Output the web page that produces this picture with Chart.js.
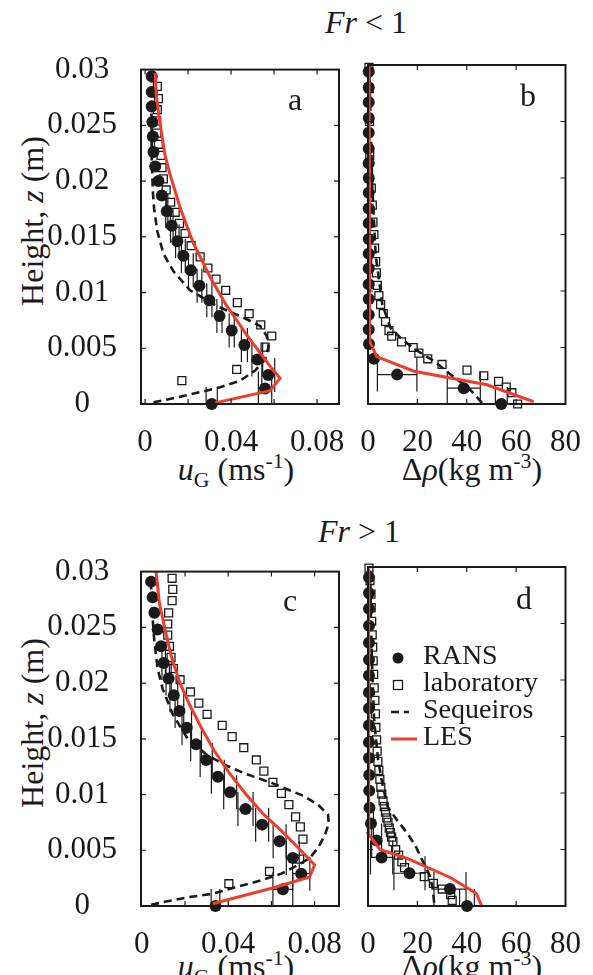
<!DOCTYPE html>
<html>
<head>
<meta charset="utf-8">
<script src="https://cdn.jsdelivr.net/npm/chart.js@4.4.1/dist/chart.umd.min.js"></script>
<style>
  body { margin: 0; width: 593px; height: 975px; position: relative; overflow: hidden; background: #fff;
         font-family: 'Liberation Serif', 'DejaVu Serif', serif; color: #1a1a1a; }
  canvas { position: absolute; }
  .t { position: absolute; white-space: nowrap; line-height: 1; transform: translate(-50%, -50%); }
  .rot { transform: translate(-50%, -50%) rotate(-90deg); }
  sub, sup { font-size: 0.68em; line-height: 0; }
</style>
</head>
<body>
<div class="t" style="left:366px;top:22px;font-size:32px"><i>Fr</i> &lt; 1</div>
<div class="t" style="left:359px;top:531px;font-size:32px"><i>Fr</i> &gt; 1</div>

<div class="t rot" style="left:32px;top:221px;font-size:32px">Height, <i>z</i> (m)</div>
<div class="t rot" style="left:32px;top:723px;font-size:32px">Height, <i>z</i> (m)</div>

<div class="t" style="left:236px;top:469px;font-size:32px"><i>u</i><sub>G</sub> (ms<sup>-1</sup>)</div>
<div class="t" style="left:472px;top:469px;font-size:32px">&Delta;<i>&rho;</i>(kg m<sup>-3</sup>)</div>
<div class="t" style="left:236px;top:966px;font-size:32px"><i>u</i><sub>G</sub> (ms<sup>-1</sup>)</div>
<div class="t" style="left:472px;top:966px;font-size:32px">&Delta;<i>&rho;</i>(kg m<sup>-3</sup>)</div>

<canvas id="ca" width="365" height="420" style="left:0;top:35px"></canvas>
<canvas id="cb" width="248" height="420" style="left:345px;top:35px"></canvas>
<canvas id="cc" width="365" height="420" style="left:0;top:537px"></canvas>
<canvas id="cd" width="248" height="420" style="left:345px;top:537px"></canvas>

<div class="t" style="left:295px;top:99px;font-size:32px">a</div>
<div class="t" style="left:528px;top:95px;font-size:32px">b</div>
<div class="t" style="left:290px;top:600px;font-size:32px">c</div>
<div class="t" style="left:524px;top:598px;font-size:32px">d</div>

<script>
// axis ticks
const zTicks = [0, 0.005, 0.01, 0.015, 0.02, 0.025, 0.03];
const uTicks = [0, 0.02, 0.04, 0.06, 0.08];
const uLabelled = [0, 0.04, 0.08];
const rhoTicks = [0, 20, 40, 60, 80];
const legendOrder = ['RANS', 'laboratory', 'Sequeiros', 'LES'];

// ---- Fr < 1 ----
const zRans1 = [0, 0.0014, 0.0026, 0.0040, 0.0053, 0.0066, 0.0079, 0.0093, 0.0106, 0.0120, 0.0133, 0.0146, 0.0160, 0.0173, 0.0187, 0.0200, 0.0213, 0.0226, 0.0240, 0.0253, 0.0267, 0.0280, 0.0294];
const uRans1 = [0.0310, 0.0558, 0.0573, 0.0522, 0.0462, 0.0403, 0.0346, 0.0299, 0.0253, 0.0213, 0.0178, 0.0150, 0.0124, 0.0101, 0.0078, 0.0062, 0.0047, 0.0039, 0.0036, 0.0034, 0.0031, 0.0031, 0.0031];
const uErr1 = [0.0026, 0.0031, 0.0030, 0.0025, 0.0014, 0.0012, 0.0012, 0.0012, 0.0011, 0.0011, 0.0009, 0.0008, 0.0006, 0.0005, 0, 0, 0, 0, 0, 0, 0, 0, 0];
const rhoRans1 = [54.0, 38.8, 11.8, 2.4, 0.4, 0.3, 0.3, 0.3, 0.3, 0.3, 0.3, 0.3, 0.3, 0.3, 0.3, 0.3, 0.3, 0.3, 0.3, 0.3, 0.3, 0.3, 0.3];
const rhoErr1 = [2.4, 6.7, 8.0, 0, 0, 0, 0, 0, 0, 0, 0, 0, 0, 0, 0, 0, 0, 0, 0, 0, 0, 0, 0];

const zLabU1 = [0.0021, 0.0031, 0.0051, 0.0061, 0.0071, 0.0081, 0.0091, 0.0102, 0.0112, 0.0122, 0.0132, 0.0142, 0.0153, 0.0162, 0.0172, 0.0181, 0.0192, 0.0202, 0.0212, 0.0223, 0.0233, 0.0243, 0.0254, 0.0264, 0.0274, 0.0285];
const uLab1 = [0.0171, 0.0426, 0.0558, 0.0589, 0.0538, 0.0484, 0.0429, 0.0375, 0.0330, 0.0292, 0.0256, 0.0214, 0.0186, 0.0160, 0.0140, 0.0119, 0.0098, 0.0085, 0.0079, 0.0074, 0.0062, 0.0054, 0.0054, 0.0057, 0.0062, 0.0057];
const zLabRho1 = [0, 0.0010, 0.0015, 0.0020, 0.0025, 0.0030, 0.0035, 0.0040, 0.0045, 0.0050, 0.0055, 0.0060, 0.0065, 0.0073, 0.0080, 0.0088, 0.0096, 0.0105, 0.0116, 0.0126, 0.0138, 0.0150, 0.0161, 0.0176, 0.0191, 0.0220, 0.0250, 0.0279, 0.0298];
const rhoLab1 = [60.6, 58.3, 56.0, 52.9, 46.9, 40.1, 30.0, 24.2, 20.6, 18.3, 13.6, 9.6, 8.5, 7.1, 6.2, 5.1, 4.4, 3.8, 3.4, 3.1, 2.7, 2.4, 2.0, 1.75, 1.35, 0.7, 0.6, 0.5, 0.4];

const zSeqU1 = [0.00015, 0.00065, 0.0011, 0.0015, 0.0021, 0.0030, 0.0040, 0.0051, 0.0061, 0.0070, 0.0076, 0.0088, 0.0102, 0.0119, 0.0135, 0.0155, 0.0175, 0.0191, 0.0220, 0.0294];
const uSeq1 = [0.0039, 0.0163, 0.0264, 0.0349, 0.0442, 0.0512, 0.0558, 0.0574, 0.0566, 0.0535, 0.0473, 0.0333, 0.0209, 0.0132, 0.0085, 0.0057, 0.0042, 0.0036, 0.0031, 0.0029];
const zSeqRho1 = [0.0001, 0.0014, 0.0024, 0.0038, 0.0048, 0.0057, 0.0067, 0.0088, 0.0132, 0.0191, 0.0298];
const rhoSeq1 = [46.2, 40.8, 34.7, 26.7, 19.3, 13.9, 9.2, 5.8, 3.1, 1.75, 0.5];

const zLesU1 = [0.0001, 0.0012, 0.0023, 0.0032, 0.0042, 0.0053, 0.0064, 0.0076, 0.0088, 0.0101, 0.0114, 0.0129, 0.0144, 0.0160, 0.0176, 0.0191, 0.0206, 0.0223, 0.0241, 0.0262, 0.0279, 0.0297];
const uLes1 = [0.0326, 0.0581, 0.0628, 0.0589, 0.0550, 0.0507, 0.0465, 0.0423, 0.0380, 0.0341, 0.0302, 0.0264, 0.0225, 0.0194, 0.0163, 0.0140, 0.0116, 0.0093, 0.0078, 0.0062, 0.0051, 0.0047];
const zLesRho1 = [0.0002, 0.0017, 0.0023, 0.0029, 0.0042, 0.0055, 0.0150, 0.0299];
const rhoLes1 = [67.1, 48.2, 33.4, 18.6, 3.5, 0.8, 0.6, 0.4];

// ---- Fr > 1 ----
const zRans2 = [0, 0.0015, 0.0029, 0.0043, 0.0058, 0.0073, 0.0087, 0.0102, 0.0116, 0.0131, 0.0145, 0.0160, 0.0175, 0.0189, 0.0204, 0.0218, 0.0233, 0.0248, 0.0263, 0.0277, 0.0291];
const uRans2 = [0.0341, 0.0653, 0.0738, 0.0699, 0.0638, 0.0557, 0.0480, 0.0409, 0.0352, 0.0298, 0.0251, 0.0208, 0.0174, 0.0148, 0.0124, 0.0101, 0.0089, 0.0073, 0.0058, 0.0050, 0.0043];
const uErr2 = [0.0020, 0.0046, 0.0040, 0.0030, 0.0030, 0.0030, 0.0035, 0.0030, 0.0030, 0.0028, 0.0025, 0.0022, 0.0020, 0.0018, 0.0012, 0.0008, 0, 0, 0, 0, 0];
const rhoRans2 = [40.1, 33.2, 16.8, 5.5, 3.5, 1.2, 0.6, 0.5, 0.5, 0.4, 0.4, 0.4, 0.4, 0.4, 0.4, 0.4, 0.4, 0.4, 0.4, 0.4, 0.4];
const rhoErr2 = [3.0, 6.5, 6.3, 4.5, 2.0, 1.0, 0, 0, 0, 0, 0, 0, 0, 0, 0, 0, 0, 0, 0, 0, 0];

const zLabU2 = [0.0020, 0.0031, 0.0042, 0.0060, 0.0071, 0.0080, 0.0091, 0.0101, 0.0111, 0.0121, 0.0131, 0.0142, 0.0152, 0.0162, 0.0172, 0.0182, 0.0192, 0.0203, 0.0213, 0.0223, 0.0233, 0.0243, 0.0253, 0.0263, 0.0274, 0.0284, 0.0294];
const uLab2 = [0.0403, 0.0591, 0.0731, 0.0746, 0.0734, 0.0712, 0.0681, 0.0646, 0.0607, 0.0565, 0.0530, 0.0472, 0.0418, 0.0372, 0.0302, 0.0264, 0.0225, 0.0177, 0.0146, 0.0135, 0.0128, 0.0120, 0.0120, 0.0124, 0.0140, 0.0143, 0.0140];
const zLabRho2 = [0.0005, 0.0010, 0.0015, 0.0020, 0.0026, 0.0034, 0.0039, 0.0045, 0.0050, 0.0057, 0.0061, 0.0065, 0.0069, 0.0074, 0.0078, 0.0083, 0.0088, 0.0093, 0.0099, 0.0105, 0.0112, 0.0120, 0.0128, 0.0137, 0.0147, 0.0158, 0.0170, 0.0182, 0.0193, 0.0205, 0.0217, 0.0229, 0.0240, 0.0252, 0.0264, 0.0276, 0.0288, 0.0299];
const rhoLab2 = [34.1, 33.5, 30.1, 26.5, 22.8, 14.8, 13.7, 12.4, 11.2, 10.1, 9.6, 9.1, 8.6, 8.1, 7.6, 7.1, 6.6, 6.1, 5.6, 5.2, 4.8, 4.4, 4.0, 3.7, 3.5, 3.2, 3.0, 2.8, 2.5, 2.3, 2.1, 1.9, 1.7, 1.5, 1.3, 1.2, 0.8, 0.4];

const zSeqU2 = [0.0001, 0.0004, 0.0008, 0.0011, 0.0017, 0.0023, 0.0029, 0.0036, 0.0043, 0.0052, 0.0063, 0.0074, 0.0082, 0.0091, 0.0099, 0.0105, 0.0110, 0.0119, 0.0126, 0.0135, 0.0150, 0.0172, 0.0195, 0.0213, 0.0237, 0.0266, 0.0293];
const uSeq2 = [0.0043, 0.0112, 0.0220, 0.0328, 0.0437, 0.0553, 0.0646, 0.0715, 0.0777, 0.0815, 0.0846, 0.0866, 0.0862, 0.0815, 0.0746, 0.0669, 0.0607, 0.0475, 0.0391, 0.0305, 0.0212, 0.0143, 0.0096, 0.0073, 0.0058, 0.0047, 0.0041];
const zSeqRho2 = [0.0003, 0.0017, 0.0028, 0.0040, 0.0052, 0.0064, 0.0075, 0.0087, 0.0105, 0.0129, 0.0164, 0.0223, 0.0300];
const rhoSeq2 = [26.8, 26.1, 24.8, 22.1, 19.5, 16.1, 12.1, 8.1, 6.1, 4.1, 2.5, 1.5, 0.8];

const zLesU2 = [0.0002, 0.0017, 0.0026, 0.0037, 0.0054, 0.0069, 0.0083, 0.0100, 0.0119, 0.0139, 0.0160, 0.0181, 0.0201, 0.0225, 0.0251, 0.0272, 0.0300];
const uLes2 = [0.0328, 0.0622, 0.0777, 0.0800, 0.0715, 0.0638, 0.0560, 0.0483, 0.0406, 0.0336, 0.0275, 0.0220, 0.0174, 0.0135, 0.0104, 0.0081, 0.0066];
const zLesRho2 = [0, 0.0011, 0.0025, 0.0042, 0.0050, 0.0064, 0.0299];
const rhoLes2 = [46.1, 43.9, 33.5, 16.1, 4.8, 0.1, 0.3];

const INK = '#1a1a1a';
const RED = '#ee3d2c';
const CAP = 17;

Chart.defaults.font.family = "'Liberation Serif', 'DejaVu Serif', serif";
Chart.defaults.color = INK;

const pts = (xs, zs) => xs.map((v, i) => ({ x: v, y: zs[i] }));

// box + short inward ticks on all four sides
const frame = {
    id: 'frame',
    afterDatasetsDraw(chart) {
        const { ctx, chartArea: a, scales: { x, y } } = chart;
        ctx.save();
        ctx.strokeStyle = INK;
        ctx.lineWidth = 1.2;
        ctx.beginPath();
        x.ticks.forEach((t) => {
            const px = x.getPixelForValue(t.value);
            if (px < a.left + 2 || px > a.right - 2) return;
            ctx.moveTo(px, a.top); ctx.lineTo(px, a.top + 5);
            ctx.moveTo(px, a.bottom); ctx.lineTo(px, a.bottom - 5);
        });
        y.ticks.forEach((t) => {
            const py = y.getPixelForValue(t.value);
            if (py < a.top + 2 || py > a.bottom - 2) return;
            ctx.moveTo(a.left, py); ctx.lineTo(a.left + 5, py);
            ctx.moveTo(a.right, py); ctx.lineTo(a.right - 5, py);
        });
        ctx.stroke();
        ctx.lineWidth = 2;
        ctx.strokeRect(a.left, a.top, a.right - a.left, a.bottom - a.top);
        ctx.restore();
    },
};

// horizontal error bars with tall end caps (RANS)
const errorBars = {
    id: 'errorBars',
    beforeDatasetsDraw(chart) {
        const { ctx, chartArea: a, scales: { x, y } } = chart;
        ctx.save();
        ctx.beginPath();
        ctx.rect(a.left, a.top, a.right - a.left, a.bottom - a.top);
        ctx.clip();
        ctx.strokeStyle = INK;
        ctx.lineWidth = 1.2;
        chart.data.datasets.forEach((ds) => {
            if (!ds.errX) return;
            ds.data.forEach((p, i) => {
                const e = ds.errX[i];
                if (!e) return;
                const x0 = x.getPixelForValue(p.x - e);
                const x1 = x.getPixelForValue(p.x + e);
                const py = y.getPixelForValue(p.y);
                ctx.beginPath();
                ctx.moveTo(x0, py); ctx.lineTo(x1, py);
                ctx.moveTo(x0, py - CAP); ctx.lineTo(x0, py + CAP);
                ctx.moveTo(x1, py - CAP); ctx.lineTo(x1, py + CAP);
                ctx.stroke();
            });
        });
        ctx.restore();
    },
};

// legend inside panel d
const insetLegend = {
    id: 'insetLegend',
    afterDraw(chart, args, opts) {
        if (!opts.show) return;
        const { ctx, chartArea: a } = chart;
        ctx.save();
        ctx.font = "28px 'Liberation Serif'";
        ctx.textBaseline = 'middle';
        legendOrder.forEach((name, i) => {
            const ds = chart.data.datasets.find((d) => d.label === name);
            const sx = a.left + 30;
            const sy = a.top + 91 + i * 27;
            ctx.strokeStyle = ds.borderColor;
            ctx.fillStyle = ds.backgroundColor;
            if (ds.showLine) {
                ctx.lineWidth = ds.borderWidth;
                ctx.setLineDash(ds.borderDash || []);
                ctx.beginPath();
                ctx.moveTo(sx - 7, sy);
                ctx.lineTo(sx + (ds.borderDash ? 11 : 19), sy);
                ctx.stroke();
                ctx.setLineDash([]);
            } else if (ds.pointStyle === 'rect') {
                ctx.lineWidth = ds.borderWidth;
                ctx.strokeRect(sx - 4.5, sy - 4.5, 9, 9);
            } else {
                ctx.beginPath();
                ctx.arc(sx, sy, 5.5, 0, Math.PI * 2);
                ctx.fill();
            }
            ctx.fillStyle = INK;
            ctx.fillText(name, a.left + 55, sy - 1);
        });
        ctx.restore();
    },
};

function panelSets(ransX, ransZ, err, labX, labZ, seqX, seqZ, lesX, lesZ) {
    return [
        { label: 'LES', data: pts(lesX, lesZ), showLine: true, borderColor: RED, backgroundColor: RED,
          borderWidth: 3, pointRadius: 0, clip: false },
        { label: 'RANS', data: pts(ransX, ransZ), errX: err, pointStyle: 'circle', pointRadius: 6,
          backgroundColor: INK, borderColor: INK, borderWidth: 0, clip: false },
        { label: 'laboratory', data: pts(labX, labZ), pointStyle: 'rect', pointRadius: 5.6,
          backgroundColor: 'rgba(255,255,255,0)', borderColor: INK, borderWidth: 1.3, clip: false },
        { label: 'Sequeiros', data: pts(seqX, seqZ), showLine: true, borderColor: INK, backgroundColor: INK,
          borderWidth: 2.6, borderDash: [8, 5], pointRadius: 0, clip: false },
    ];
}

function makePanel(id, datasets, xCfg, leftAxis, legend) {
    const tickFont = { family: "'Liberation Serif'", size: 31 };
    return new Chart(document.getElementById(id), {
        type: 'scatter',
        data: { datasets },
        options: {
            responsive: false,
            animation: false,
            devicePixelRatio: 1,
            events: [],
            layout: { padding: { top: 30, right: 26, left: 0, bottom: 0 } },
            plugins: { legend: { display: false }, tooltip: { enabled: false }, insetLegend: { show: legend } },
            scales: {
                x: {
                    type: 'linear',
                    min: xCfg.min,
                    max: xCfg.max,
                    grid: { display: false },
                    border: { display: false },
                    afterBuildTicks: (s) => { s.ticks = xCfg.ticks.map((v) => ({ value: v })); },
                    afterFit: (s) => { s.height = 51; },
                    ticks: {
                        font: tickFont, color: INK, padding: 12, autoSkip: false, maxRotation: 0, minRotation: 0,
                        callback: (v) => (xCfg.labels.includes(v) ? String(v) : ''),
                    },
                },
                y: {
                    type: 'linear',
                    min: 0,
                    max: 0.03,
                    grid: { display: false },
                    border: { display: false },
                    afterBuildTicks: (s) => { s.ticks = zTicks.map((v) => ({ value: v })); },
                    afterFit: (s) => { s.width = leftAxis ? 141 : 23; },
                    ticks: {
                        display: leftAxis, font: tickFont, color: INK, padding: 16, crossAlign: 'center', autoSkip: false,
                        callback: (v) => String(+v.toFixed(3)),
                    },
                },
            },
        },
        plugins: [errorBars, frame, insetLegend],
    });
}

const uAxisTop = { min: -0.0019, max: 0.0902, ticks: uTicks, labels: uLabelled };
const uAxisBottom = { min: -0.0004, max: 0.0913, ticks: uTicks, labels: uLabelled };
const rhoAxis = { min: 0, max: 80, ticks: rhoTicks, labels: rhoTicks };

makePanel('ca', panelSets(uRans1, zRans1, uErr1, uLab1, zLabU1, uSeq1, zSeqU1, uLes1, zLesU1), uAxisTop, true, false);
makePanel('cb', panelSets(rhoRans1, zRans1, rhoErr1, rhoLab1, zLabRho1, rhoSeq1, zSeqRho1, rhoLes1, zLesRho1), rhoAxis, false, false);
makePanel('cc', panelSets(uRans2, zRans2, uErr2, uLab2, zLabU2, uSeq2, zSeqU2, uLes2, zLesU2), uAxisBottom, true, false);
makePanel('cd', panelSets(rhoRans2, zRans2, rhoErr2, rhoLab2, zLabRho2, rhoSeq2, zSeqRho2, rhoLes2, zLesRho2), rhoAxis, false, true);
</script>
</body>
</html>
